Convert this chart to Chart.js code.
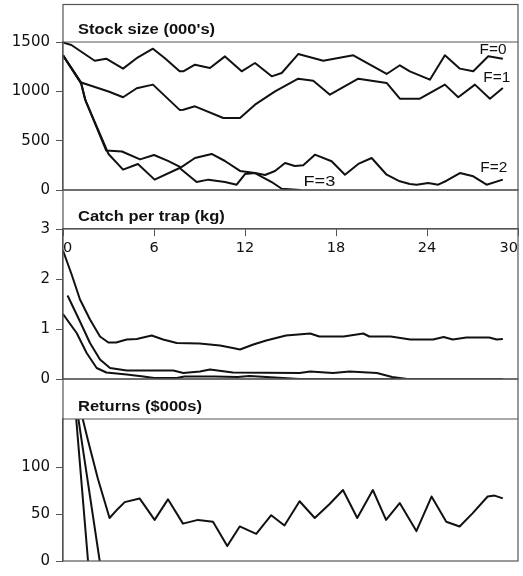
<!DOCTYPE html>
<html>
<head>
<meta charset="utf-8">
<script src="https://cdn.jsdelivr.net/npm/chart.js@4"></script>
<style>
  html, body { margin: 0; padding: 0; background: #fff; }
  #wrap { position: relative; width: 523px; height: 576px; }
  #wrap canvas { position: absolute; left: 0; top: 0; }
</style>
</head>
<body>
<div id="wrap">
  <canvas id="stock" width="523" height="576"></canvas>
  <canvas id="catch" width="523" height="576"></canvas>
  <canvas id="returns" width="523" height="576"></canvas>
</div>
<script>
// years on the shared x axis
const yearTicks = [0, 6, 12, 18, 24, 30];

// stock size (000's), [year, value]
const stockF0 = [[0,1495],[0.55,1470],[2.09,1310],[2.85,1331],[3.96,1230],[4.94,1345],[5.93,1432],[6.7,1338],[7.69,1203],[7.93,1203],[8.7,1270],[9.69,1236],[10.68,1354],[11.78,1203],[12.66,1287],[13.76,1152],[14.42,1186],[15.51,1378],[17.16,1310],[19.14,1365],[21.34,1176],[22.21,1264],[22.87,1203],[24.19,1118],[25.18,1365],[26.17,1230],[27.05,1203],[28.04,1355],[29,1331]];
const stockF1 = [[0,1365],[1.2,1090],[3.05,996],[3.96,940],[4.86,1031],[5.93,1068],[7.69,812],[7.93,814],[8.7,848],[10.57,730],[11.67,730],[12.66,865],[13.98,1000],[15.51,1128],[16.5,1108],[17.6,966],[19.47,1128],[21.34,1085],[22.21,925],[23.53,925],[25.18,1068],[26.06,940],[27.16,1068],[28.15,925],[29,1034]];
const stockF2 = [[0,1365],[1.2,1080],[1.45,920],[2.85,400],[3.89,390],[5.08,310],[6.0,355],[6.92,295],[7.78,230],[8.7,324],[9.8,365],[10.68,294],[11.67,193],[12.66,172],[13.32,152],[13.98,193],[14.64,273],[15.29,243],[15.84,250],[16.61,358],[17.71,291],[18.59,155],[19.47,264],[20.35,324],[21.34,155],[22.21,88],[22.87,61],[23.32,54],[24.08,71],[24.74,54],[25.29,94],[26.17,172],[27.05,139],[27.93,54],[29,105]];
const stockF3 = [[0,1365],[1.2,1080],[1.5,900],[3.0,365],[3.96,206],[4.94,264],[6.04,105],[7.69,223],[8.81,81],[9.58,105],[10.68,81],[11.45,54],[12.0,162],[12.66,172],[13.76,81],[14.42,13],[15.65,0]];
const stockTicks = [0, 500, 1000, 1500];

// catch per trap (kg)
const catchF1 = [[0,2.57],[0.57,2.09],[1.12,1.59],[1.78,1.19],[2.44,0.85],[2.99,0.73],[3.5,0.73],[4.2,0.79],[4.86,0.8],[5.85,0.87],[6.6,0.79],[7.5,0.72],[9.0,0.71],[10.35,0.67],[11.2,0.62],[11.67,0.59],[12.55,0.69],[13.4,0.77],[14.7,0.87],[16.3,0.91],[16.9,0.85],[18.5,0.85],[19.8,0.91],[20.2,0.85],[21.6,0.85],[22.9,0.79],[24.4,0.79],[25.1,0.84],[25.7,0.79],[26.6,0.83],[28.1,0.83],[28.6,0.79],[29,0.8]];
const catchF2 = [[0.3,1.67],[1.12,1.15],[1.78,0.72],[2.44,0.39],[3.1,0.22],[4.2,0.17],[7.27,0.17],[7.93,0.12],[9.03,0.15],[9.69,0.19],[11.2,0.13],[15.6,0.12],[16.3,0.15],[17.8,0.12],[18.9,0.15],[20.7,0.12],[21.7,0.04],[22.7,0],[29,0]];
const catchF3 = [[0,1.3],[0.9,0.92],[1.56,0.52],[2.22,0.22],[2.86,0.13],[4.2,0.09],[5.3,0.05],[6,0.02],[7.5,0.02],[8,0.05],[10,0.05],[11.5,0.04],[12.3,0.06],[15.6,0],[29,0]];
const catchTicks = [0, 1, 2, 3];

// returns ($000s)
const returnsF1 = [[0,250],[1.0,172],[1.65,129],[2.3,88],[3.07,46],[3.63,56],[4.07,63],[5.05,67],[6.04,44],[6.92,66],[7.91,40],[8.9,44],[9.89,42],[10.83,16],[11.65,37],[12.74,29],[13.73,49],[14.6,38],[15.6,64],[16.6,46],[17.58,61],[18.46,76],[19.4,46],[20.43,76],[21.3,44],[22.2,62],[23.3,32],[24.3,69],[25.27,42],[26.15,37],[27.0,51],[28.0,69],[28.46,70],[29,67]];
const returnsF2 = [[0,262],[2.42,0],[2.7,-30]];
const returnsF3 = [[0,322],[1.65,0],[1.9,-50]];
const returnsTicks = [0, 50, 100];

const fLabels = ['F=0', 'F=1', 'F=2', 'F=3'];

const INK = '#111';
const RULE = '#555';

// frame box, title band and free text for each panel
const frame = {
  id: 'frame',
  afterDraw(chart, args, opts) {
    const { ctx, chartArea: a } = chart;
    ctx.save();
    ctx.strokeStyle = RULE;
    ctx.lineWidth = 1.2;
    ctx.strokeRect(a.left, opts.bandTop, a.right - a.left, a.bottom - opts.bandTop);
    ctx.beginPath();
    ctx.moveTo(a.left, a.top);
    ctx.lineTo(a.right, a.top);
    ctx.stroke();

    ctx.fillStyle = INK;
    ctx.font = 'bold 14px "Liberation Sans", Arial, sans-serif';
    ctx.textBaseline = 'alphabetic';
    ctx.translate(a.left + 15, a.top - 8);
    ctx.scale(1.18, 1);
    ctx.fillText(opts.title, 0, 0);
    ctx.restore();

    const xs = chart.scales.x, ys = chart.scales.y;
    (opts.notes || []).forEach(n => {
      ctx.save();
      ctx.fillStyle = INK;
      ctx.font = '14px "Liberation Sans", Arial, sans-serif';
      ctx.textAlign = 'center';
      ctx.textBaseline = 'middle';
      ctx.translate(xs.getPixelForValue(n.at[0]), ys.getPixelForValue(n.at[1]));
      ctx.scale(n.stretch || 1.1, 1);
      ctx.fillText(n.text, 0, 0);
      ctx.restore();
    });
  }
};

function series(points, extra) {
  return Object.assign({
    data: points.map(([x, y]) => ({ x, y })),
    borderColor: INK,
    borderWidth: 2,
    borderJoinStyle: 'round',
    pointRadius: 0,
    tension: 0,
    fill: false
  }, extra || {});
}

function panel(id, datasets, yTicks, yMax, pad, frameOpts, showYears) {
  const font = size => ({ family: '"DejaVu Sans", sans-serif', size });
  return new Chart(document.getElementById(id), {
    type: 'line',
    data: { datasets },
    options: {
      responsive: false,
      animation: false,
      devicePixelRatio: 1,
      layout: { padding: { left: 0, right: 5, top: pad[0], bottom: pad[1] } },
      plugins: { legend: { display: false }, tooltip: { enabled: false }, frame: frameOpts },
      scales: {
        x: {
          type: 'linear',
          min: 0,
          max: 30,
          display: showYears,
          position: showYears ? { y: yMax } : 'bottom',
          afterBuildTicks: s => { s.ticks = yearTicks.map(v => ({ value: v })); },
          ticks: { font: font(14.5), color: INK, align: 'inner', padding: 4, maxRotation: 0, callback: v => String(v) },
          grid: { drawOnChartArea: false, tickLength: 7, color: RULE },
          border: { color: RULE, width: 1.2 }
        },
        y: {
          min: 0,
          max: yMax,
          afterBuildTicks: s => { s.ticks = yTicks.map(v => ({ value: v })); },
          afterFit: s => { s.width = 63; },
          ticks: { font: font(15), color: INK, padding: 6, callback: v => String(v) },
          grid: { drawOnChartArea: false, tickLength: 7, color: RULE },
          border: { color: RULE, width: 1.2 }
        }
      }
    },
    plugins: [frame]
  });
}

panel('stock',
  [series(stockF0), series(stockF1), series(stockF2), series(stockF3)],
  stockTicks, 1500, [42, 386],
  {
    bandTop: 4.5,
    title: "Stock size (000's)",
    notes: [
      { text: fLabels[0], at: [28.35, 1419] },
      { text: fLabels[1], at: [28.6, 1135] },
      { text: fLabels[2], at: [28.4, 223] },
      { text: fLabels[3], at: [16.9, 81], stretch: 1.3 }
    ]
  }, false);

panel('catch',
  [series(catchF1), series(catchF2), series(catchF3)],
  catchTicks, 3, [229, 197],
  { bandTop: 190, title: 'Catch per trap (kg)' }, true);

panel('returns',
  [series(returnsF1, { clip: 0 }), series(returnsF2, { clip: 0 }), series(returnsF3, { clip: 0 })],
  returnsTicks, 152, [419, 8],
  { bandTop: 379, title: 'Returns ($000s)' }, false);
</script>
</body>
</html>
